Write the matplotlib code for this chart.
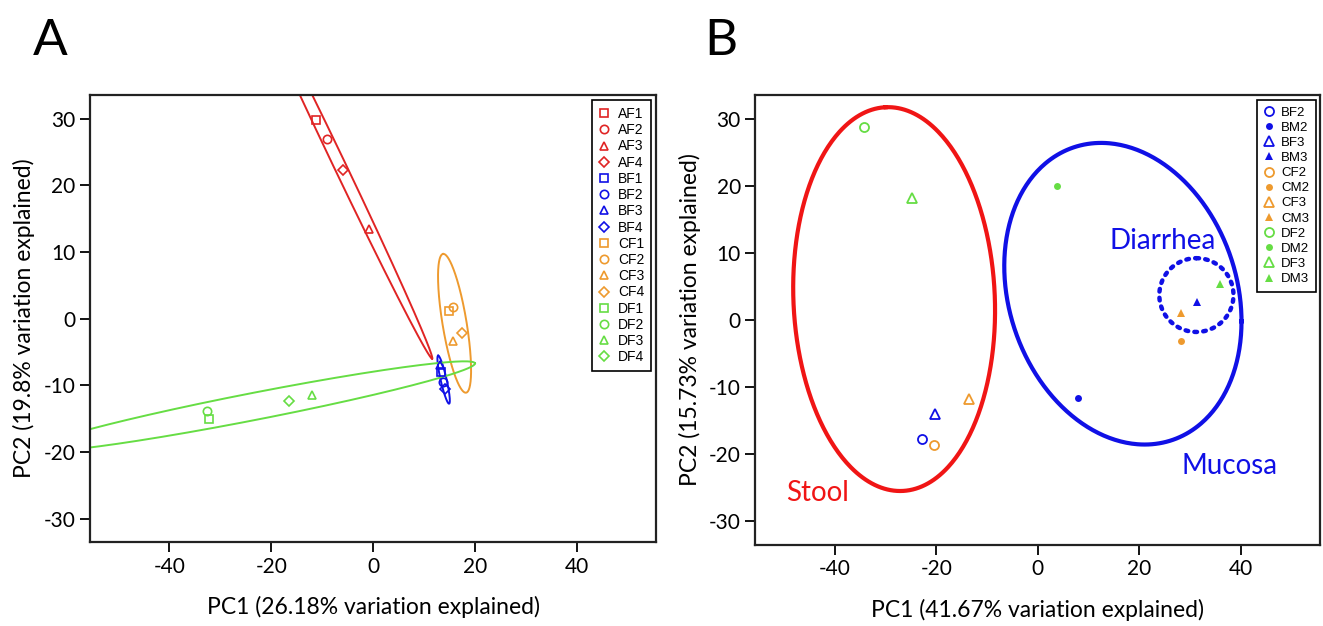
import numpy as np
import matplotlib.pyplot as plt

plt.rcParams['font.family'] = ['Lato', 'DejaVu Sans']
plt.rcParams['axes.unicode_minus'] = False

# ---- panel A data -------------------------------------------------------
labels_A = ["AF1", "AF2", "AF3", "AF4",
            "BF1", "BF2", "BF3", "BF4",
            "CF1", "CF2", "CF3", "CF4",
            "DF1", "DF2", "DF3", "DF4"]
pc1_A = [-11.2, -9.0, -0.8, -5.9,
         13.4, 13.8, 13.2, 14.2,
         14.9, 15.7, 15.7, 17.5,
         -32.2, -32.6, -12.0, -16.5]
pc2_A = [29.8, 27.0, 13.5, 22.3,
         -8.0, -9.5, -7.0, -10.5,
         1.2, 1.7, -3.3, -2.2,
         -15.1, -13.8, -11.4, -12.3]

# group ellipses: centre, semi-axis 1, semi-axis 2 (data units)
groups_A = ["A", "B", "C", "D"]
ell_center_A = [(-6.7, 23.2), (13.85, -9.15), (16.0, -0.7), (-23.3, -13.15)]
ell_u_A = [(18.3, -29.2), (-1.08, 3.6), (-2.26, 10.4), (43.3, 6.45)]
ell_v_A = [(1.06, 0.39), (0.57, 0.10), (2.33, 0.29), (0.51, -1.99)]

# ---- panel B data -------------------------------------------------------
labels_B = ["BF2", "BM2", "BF3", "BM3",
            "CF2", "CM2", "CF3", "CM3",
            "DF2", "DM2", "DF3", "DM3"]
pc1_B = [-22.8, 7.8, -20.2, 31.3,
         -20.4, 28.2, -13.6, 28.2,
         -34.2, 3.7, -24.7, 35.8]
pc2_B = [-17.7, -11.7, -14.1, 2.7,
         -18.6, -3.2, -11.8, 1.0,
         28.8, 19.9, 18.1, 5.4]

ell_names_B = ["Stool", "Mucosa", "Diarrhea"]
ell_center_B = [(-28.3, 3.1), (16.73, 3.9), (31.2, 3.7)]
ell_u_B = [(-1.65, 28.6), (23.35, -4.12), (0.0, 5.5)]
ell_v_B = [(19.8, 0.68), (0.0, -22.1), (7.3, 0.0)]
label_xy_B = [(-49.6, -27.0), (28.2, -22.9), (14.0, 10.6)]

col = {"A": "#E02424", "B": "#1010E6", "C": "#EE9A2E", "D": "#66DD44"}
red_B = "#F01515"
shape = {"1": "s", "2": "o", "3": "^", "4": "D"}


def ellipse_xy(c, u, v, n=400):
    t = np.linspace(0, 2*np.pi, n)
    x = c[0] + np.cos(t)*u[0] + np.sin(t)*v[0]
    y = c[1] + np.cos(t)*u[1] + np.sin(t)*v[1]
    return x, y


def style_axes(ax, xlabel, ylabel):
    ax.set_xlim(-55.6, 55.6)
    ax.set_ylim(-33.5, 33.5)
    ax.set_xticks([-40, -20, 0, 20, 40])
    ax.set_yticks([-30, -20, -10, 0, 10, 20, 30])
    ax.tick_params(labelsize=15, length=7, width=1.3, direction="out")
    for s in ax.spines.values():
        s.set_linewidth(1.6)
        s.set_color("#222222")
    ax.set_xlabel(xlabel, fontsize=16.5, labelpad=14)
    ax.set_ylabel(ylabel, fontsize=16.5, labelpad=6)


fig = plt.figure(figsize=(13.23, 6.26), dpi=100)
axA = fig.add_axes([0.068, 0.134, 0.428, 0.714])
axB = fig.add_axes([0.571, 0.130, 0.427, 0.718])

# ---- panel A ------------------------------------------------------------
for g, c, u, v in zip(groups_A, ell_center_A, ell_u_A, ell_v_A):
    x, y = ellipse_xy(c, u, v)
    axA.plot(x, y, color=col[g], lw=1.4)

handles = []
for lab, x, y in zip(labels_A, pc1_A, pc2_A):
    g, k = lab[0], lab[2]
    m = shape[k]
    ms = 5.5 if m == "D" else 6
    h, = axA.plot(x, y, m, mfc="none", mec=col[g], mew=1.2, ms=ms,
                  label=lab)
    handles.append(h)

axA.legend(handles=handles, loc="upper right",
           frameon=True, fancybox=False, edgecolor="black",
           framealpha=1, borderaxespad=0.35, handlelength=0.8,
           handletextpad=0.6, labelspacing=0.16, borderpad=0.5,
           prop={"family": "Liberation Sans", "size": 10})
axA.get_legend().get_frame().set_linewidth(1.2)
style_axes(axA, "PC1 (26.18% variation explained)",
           "PC2 (19.8% variation explained)")

# ---- panel B ------------------------------------------------------------
xs, ys = ellipse_xy(ell_center_B[0], ell_u_B[0], ell_v_B[0])
axB.plot(xs, ys, color=red_B, lw=3)
xs, ys = ellipse_xy(ell_center_B[1], ell_u_B[1], ell_v_B[1])
axB.plot(xs, ys, color=col["B"], lw=3)
xs, ys = ellipse_xy(ell_center_B[2], ell_u_B[2], ell_v_B[2])
axB.plot(xs, ys, color=col["B"], lw=3.2, ls=(0, (0.6, 1.4)),
         dash_capstyle="round")

handlesB = []
for lab, x, y in zip(labels_B, pc1_B, pc2_B):
    g, kind, k = lab[0], lab[1], lab[2]
    m = "o" if k == "2" else "^"
    if kind == "F":
        h, = axB.plot(x, y, m, mfc="none", mec=col[g], mew=1.3,
                      ms=6.5, label=lab)
    else:
        h, = axB.plot(x, y, m, mfc=col[g], mec=col[g], mew=0,
                      ms=5 if m == "o" else 6, label=lab)
    handlesB.append(h)

axB.legend(handles=handlesB, loc="upper right", frameon=True,
           fancybox=False, edgecolor="black", framealpha=1,
           borderaxespad=0.35, handlelength=0.8, handletextpad=0.5,
           labelspacing=0.22, borderpad=0.5,
           prop={"family": "Liberation Sans", "size": 9.5})
axB.get_legend().get_frame().set_linewidth(1.2)

for name, (tx, ty), c in zip(ell_names_B, label_xy_B,
                             [red_B, col["B"], col["B"]]):
    axB.text(tx, ty, name, color=c, fontsize=20, va="baseline", ha="left")

style_axes(axB, "PC1 (41.67% variation explained)",
           "PC2 (15.73% variation explained)")

fig.text(0.025, 0.935, "A", fontsize=37, va="center", ha="left")
fig.text(0.532, 0.935, "B", fontsize=37, va="center", ha="left")

fig.savefig("out.png", dpi=100, facecolor="white")
